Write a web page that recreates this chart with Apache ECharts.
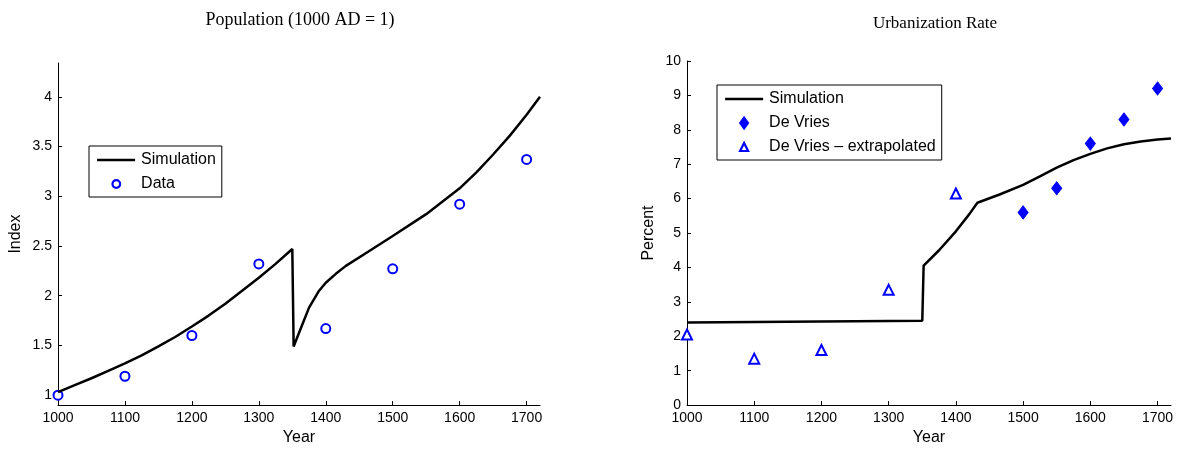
<!DOCTYPE html>
<html>
<head>
<meta charset="utf-8">
<script src="https://cdn.jsdelivr.net/npm/echarts@6/dist/echarts.min.js"></script>
<style>html,body{margin:0;padding:0;background:#fff}#main{width:1178px;height:451px}</style>
</head>
<body>
<div id="main"></div>
<script>
// 人口模拟
var popSimYears = [1000,1025,1050,1075,1100,1125,1150,1175,1200,1225,1250,1275,1300,1325,1350,1352,1362,1375,1390,1400,1415,1430,1465,1500,1550,1600,1625,1650,1675,1700,1720];
var popSimVals  = [1.03,1.10,1.17,1.245,1.32,1.40,1.49,1.585,1.69,1.80,1.92,2.05,2.18,2.32,2.47,1.49,1.66,1.88,2.05,2.13,2.22,2.3,2.45,2.6,2.82,3.08,3.24,3.42,3.61,3.82,4.0];
var popDataYears = [1000,1100,1200,1300,1400,1500,1600,1700];
var popDataVals  = [1.0,1.19,1.6,2.32,1.67,2.27,2.92,3.37];
// 城市化率
var urbSimYears = [1000,1350,1352,1375,1400,1420,1432,1465,1500,1525,1550,1575,1600,1625,1650,1675,1700,1720];
var urbSimVals  = [2.4,2.45,4.05,4.5,5.05,5.55,5.88,6.12,6.4,6.65,6.9,7.12,7.3,7.46,7.58,7.66,7.72,7.75];
var dvYears = [1500,1550,1600,1650,1700];
var dvVals  = [5.6,6.3,7.6,8.3,9.2];
var extYears = [1000,1100,1200,1300,1400];
var extVals  = [2.05,1.35,1.6,3.35,6.15];
var popTicks = [1,1.5,2,2.5,3,3.5,4];

function zip(a,b){var r=[];for(var i=0;i<a.length;i++){r.push([a[i],b[i]]);}return r;}

var font = 'Liberation Sans, Arial, sans-serif';
// 图例图标（40x11 画布）
var lineIcon = 'path://M0,0M40,11M1,4.3H39V6.7H1Z';
var circleIcon = 'path://M0,0M40,11M24,5.5A3.8,3.8,0,1,0,16.4,5.5A3.8,3.8,0,1,0,24,5.5Z';
var diamondIcon = 'path://M0,0M40,11M20,0L24,5.5L20,11L16,5.5Z';
var triIcon = 'path://M0,0M40,11M20,1.5L24,9.5H16Z';
var emptyStyle = {color:'#fff',borderColor:'#0000ff',borderWidth:2.2};
function xAxisOf(idx){
	return {
		type:'value', gridIndex:idx, min:1000, max:1720, interval:100,
		name:'Year', nameLocation:'middle', nameGap:24,
		nameTextStyle:{fontFamily:font,fontSize:16,color:'#000'},
		axisLine:{lineStyle:{color:'#000'}},
		axisTick:{inside:true,length:4,lineStyle:{color:'#000'}},
		axisLabel:{fontFamily:font,fontSize:14,color:'#000',margin:6,showMaxLabel:false,formatter:function(v){return String(v);}},
		splitLine:{show:false}
	};
}
function legendOf(items,left,top){
	return {data:items,left:left,top:top,orient:'vertical',
		borderColor:'#000',borderWidth:1,backgroundColor:'#fff',padding:[6,6,5,6],itemGap:8,
		itemWidth:40,itemHeight:11,textStyle:{fontFamily:font,fontSize:16,color:'#000'}};
}
var myChart = echarts.init(document.getElementById('main'));
var option = {
	animation:false,
	title:[
		{text:'Population (1000 AD = 1)',left:295,top:6,textAlign:'center',textStyle:{fontFamily:'Liberation Serif, Times New Roman, serif',fontWeight:'normal',fontSize:18,color:'#000'}},
		{text:'Urbanization Rate',left:930,top:10,textAlign:'center',textStyle:{fontFamily:'Liberation Serif, Times New Roman, serif',fontWeight:'normal',fontSize:17,color:'#000'}}
	],
	grid:[
		{left:58,right:638,top:63,bottom:42},
		{left:687,right:7,top:61,bottom:44}
	],
	xAxis:[xAxisOf(0),xAxisOf(1)],
	yAxis:[
		{type:'value',gridIndex:0,min:0.9,max:4.34,
		 name:'Index',nameLocation:'middle',nameGap:34,
		 nameTextStyle:{fontFamily:font,fontSize:16,color:'#000'},
		 axisLine:{show:true,lineStyle:{color:'#000'}},
		 axisTick:{inside:true,length:4,customValues:popTicks,lineStyle:{color:'#000'}},
		 axisLabel:{fontFamily:font,fontSize:14,color:'#000',margin:6,customValues:popTicks},
		 splitLine:{show:false}},
		{type:'value',gridIndex:1,min:0,max:10,interval:1,
		 name:'Percent',nameLocation:'middle',nameGap:30,
		 nameTextStyle:{fontFamily:font,fontSize:16,color:'#000'},
		 axisLine:{show:true,lineStyle:{color:'#000'}},
		 axisTick:{inside:true,length:4,lineStyle:{color:'#000'}},
		 axisLabel:{fontFamily:font,fontSize:14,color:'#000',margin:6},
		 splitLine:{show:false}}
	],
	legend:[
		legendOf([{name:'Simulation',icon:lineIcon},{name:'Data',icon:circleIcon,itemStyle:emptyStyle}],89,146),
		legendOf([{name:'Simulation ',icon:lineIcon},{name:'De Vries',icon:diamondIcon},{name:'De Vries – extrapolated',icon:triIcon,itemStyle:emptyStyle}],717,85)
	],
	series:[
		{name:'Simulation',type:'line',xAxisIndex:0,yAxisIndex:0,data:zip(popSimYears,popSimVals),
		 smooth:false,symbol:'none',lineStyle:{color:'#000',width:2.5},itemStyle:{color:'#000'}},
		{name:'Data',type:'scatter',xAxisIndex:0,yAxisIndex:0,data:zip(popDataYears,popDataVals),
		 symbol:'emptyCircle',symbolSize:9,itemStyle:{color:'#0000ff',borderColor:'#0000ff',borderWidth:2.5,opacity:1}},
		{name:'Simulation ',type:'line',xAxisIndex:1,yAxisIndex:1,data:zip(urbSimYears,urbSimVals),
		 smooth:false,symbol:'none',lineStyle:{color:'#000',width:2.5},itemStyle:{color:'#000'}},
		{name:'De Vries',type:'scatter',xAxisIndex:1,yAxisIndex:1,data:zip(dvYears,dvVals),
		 symbol:'diamond',symbolSize:[10,13],itemStyle:{color:'#0000ff',borderColor:'#0000ff',borderWidth:1,opacity:1}},
		{name:'De Vries – extrapolated',type:'scatter',xAxisIndex:1,yAxisIndex:1,data:zip(extYears,extVals),
		 symbol:'emptyTriangle',symbolSize:10,itemStyle:{color:'#0000ff',borderColor:'#0000ff',borderWidth:2.5,opacity:1}}
	]
};
myChart.setOption(option);
</script>
</body>
</html>
